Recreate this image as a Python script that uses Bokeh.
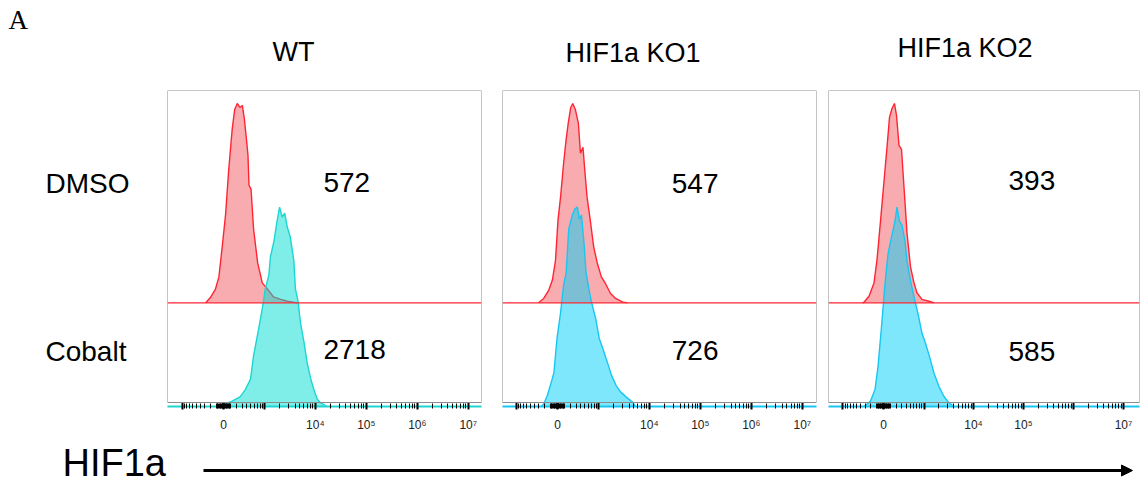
import numpy as np
from bokeh.plotting import figure
from bokeh.models import (Range1d, LinearAxis, FixedTicker, BoxAnnotation, Span,
                          Arrow, NormalHead, CustomJSTickFormatter)
from bokeh.layouts import row, column
from bokeh.embed import file_html
from bokeh.resources import INLINE
from bokeh.core.properties import value

# ---------------- data ----------------
panels = ["WT", "HIF1a KO1", "HIF1a KO2"]
conditions = ["DMSO", "Cobalt"]
mfi_dmso = [572, 547, 393]
mfi_cobalt = [2718, 726, 585]

# histogram outlines: x = display channel (biexponential decades), y = % of mode
wt_dmso_x = [-0.35, -0.26, -0.16, -0.09, -0.03, 0.04, 0.10, 0.17, 0.22, 0.27, 0.32, 0.37, 0.41, 0.45,
             0.48, 0.50, 0.54, 0.59, 0.67, 0.76, 0.86, 0.98, 1.12, 1.25, 1.45]
wt_dmso_y = [0, 2.5, 6.7, 13, 27, 44, 66, 87, 97, 100, 98, 99, 92, 82,
             74, 59, 57, 37, 20, 10, 7, 3, 1.7, 0.8, 0]
wt_cob_x = [-0.10, 0.00, 0.17, 0.33, 0.43, 0.53, 0.59, 0.69, 0.76, 0.82, 0.89, 0.92, 0.99, 1.05, 1.10,
            1.15, 1.20, 1.25, 1.31, 1.38, 1.41, 1.46, 1.51, 1.58, 1.64, 1.71, 1.77, 1.84, 1.90, 2.03]
wt_cob_y = [0, 1, 2.7, 5, 8.6, 13.7, 25.5, 39, 49, 59, 66, 75, 83, 93, 100,
            95, 97, 90, 85, 73, 59, 53, 42, 32, 22, 14, 8.6, 3.6, 1.9, 0]
ko1_dmso_x = [-0.37, -0.27, -0.17, -0.10, -0.04, 0.01, 0.06, 0.12, 0.17, 0.21, 0.26, 0.30, 0.35, 0.41,
              0.45, 0.50, 0.54, 0.58, 0.65, 0.71, 0.78, 0.86, 0.94, 1.04, 1.14, 1.27, 1.37]
ko1_dmso_y = [0, 2.2, 6.4, 11.4, 21, 41.5, 53, 70, 82, 90, 98, 100, 97, 90,
              75, 78, 65, 53, 40, 28, 20, 13, 9.7, 4.7, 2.2, 0.5, 0]
ko1_cob_x = [-0.32, -0.27, -0.20, -0.14, -0.07, -0.01, 0.06, 0.12, 0.17, 0.22, 0.29, 0.34, 0.39, 0.43, 0.47,
             0.52, 0.56, 0.63, 0.68, 0.75, 0.82, 0.89, 0.98, 1.06, 1.15, 1.24, 1.35, 1.47, 1.53]
ko1_cob_y = [0, 1.3, 5.5, 10.5, 17, 34, 47, 61, 67, 89, 96, 99, 100, 94, 96,
             82, 67, 57, 51, 44, 34, 29, 22, 15.6, 10.5, 7.2, 4.7, 2.2, 0]
ko2_dmso_x = [-0.42, -0.39, -0.29, -0.19, -0.13, -0.06, 0.01, 0.07, 0.12, 0.17, 0.22, 0.26, 0.31, 0.36,
              0.41, 0.47, 0.54, 0.61, 0.67, 0.77, 0.91, 1.01]
ko2_dmso_y = [0, 0.3, 3.3, 10, 21.5, 41, 61, 78, 93, 97.5, 100, 94, 79, 77,
              58, 35, 18, 10, 5, 1.7, 0.8, 0]
ko2_cob_x = [-0.40, -0.36, -0.26, -0.17, -0.11, -0.04, 0.03, 0.09, 0.16, 0.23, 0.27, 0.32, 0.37, 0.43,
             0.47, 0.54, 0.61, 0.69, 0.77, 0.84, 0.92, 1.01, 1.11, 1.21, 1.31, 1.41]
ko2_cob_y = [0, 0.5, 2.7, 8.5, 20, 40, 61.5, 76.5, 85, 93, 100, 93, 91, 83,
             73, 63, 55, 46.6, 36.7, 31.7, 25, 16.7, 10, 5, 1.8, 0]

dmso_hists = [(wt_dmso_x, wt_dmso_y), (ko1_dmso_x, ko1_dmso_y), (ko2_dmso_x, ko2_dmso_y)]
cob_hists = [(wt_cob_x, wt_cob_y), (ko1_cob_x, ko1_cob_y), (ko2_cob_x, ko2_cob_y)]

tick_values = [-1e3, 0, 1e3, 1e4, 1e5, 1e6, 1e7]
tick_labels = [["", "0", "", "10⁴", "10⁵", "10⁶", "10⁷"],
               ["", "0", "", "10⁴", "10⁵", "10⁶", "10⁷"],
               ["", "0", "", "10⁴", "10⁵", "", "10⁷"]]
axis_title = "HIF1a"
panel_letter = "A"


def biex(v):
    return float(np.arcsinh(np.asarray(v) / 317.0) / np.log(10))


major_t = [biex(v) for v in tick_values]
minor_vals = [k * 10 ** n for n in range(1, 7) for k in range(2, 10)]
minor_vals += [-k * 10 ** n for n in range(1, 3) for k in range(1, 10)] + [100, 10]
minor_t = sorted(biex(v) for v in minor_vals)

# ---------------- layout / style ----------------
FONT = "Liberation Sans"
RED_LINE = "#ff2433"
RED_FILL = "#f04650"
W = 1141
HEAD_H = 70
ROW_H = 364
TOP, BOTTOM = 20, 27
geo = [
    dict(width=330, left=7, right=9, x=(-1.098, 5.059), ytop=158.5,
         cl="#1cd6d2", cf="#00dcd2", tx=272, ty=51.5, nx=1.96, ny=(112.5, 28.5)),
    dict(width=332, left=12, right=6, x=(-1.078, 5.078), ytop=158.5,
         cl="#18c6f2", cf="#00d0f8", tx=565, ty=52.5, nx=2.24, ny=(112, 28)),
    dict(width=319, left=6, right=2, x=(-1.1, 5.12), ytop=158.5,
         cl="#18c6f2", cf="#00d0f8", tx=897, ty=47.5, nx=2.5, ny=(113.5, 27.5)),
]
RED_BASE = 52

# header strip: panel letter and column titles (page pixels)
ph = figure(width=W, height=HEAD_H, x_range=Range1d(0, W), y_range=Range1d(HEAD_H, 0),
            x_axis_type=None, y_axis_type=None, toolbar_location=None, output_backend="svg",
            min_border=0)
ph.outline_line_color = None
ph.text(x=[8], y=[19.5], text=[panel_letter], text_font=value("Liberation Serif"),
        text_font_size="27px", text_baseline="middle", text_align="left", text_color="black")
ph.text(x=[g["tx"] for g in geo], y=[g["ty"] for g in geo], text=panels, text_font=value(FONT),
        text_font_size="27px", text_baseline="middle", text_align="left", text_color="black")

# left label column (frame shares the panels' vertical extent; y in page pixels)
frame_top = HEAD_H + TOP
frame_bot = HEAD_H + ROW_H - BOTTOM
p0 = figure(width=160, height=ROW_H, x_range=Range1d(0, 160),
            y_range=Range1d(frame_bot, frame_top),
            x_axis_type=None, y_axis_type=None, toolbar_location=None, output_backend="svg",
            min_border_left=0, min_border_right=0, min_border_top=TOP, min_border_bottom=BOTTOM)
p0.outline_line_color = None
p0.text(x=[45, 45], y=[183, 352], text=conditions, text_font=value(FONT),
        text_font_size="28px", text_baseline="middle", text_align="left", text_color="black")

figs = [p0]
for i, g in enumerate(geo):
    p = figure(width=g["width"], height=ROW_H, x_range=Range1d(*g["x"]), y_range=Range1d(0, g["ytop"]),
               x_axis_type=None, y_axis_type=None, toolbar_location=None, output_backend="svg",
               min_border_left=g["left"], min_border_right=g["right"],
               min_border_top=TOP, min_border_bottom=BOTTOM)
    p.outline_line_color = None
    p.background_fill_color = "white"

    # DMSO histogram (upper, offset)
    dx, dy = dmso_hists[i]
    top_d = [RED_BASE + v for v in dy]
    p.varea(x=dx, y1=RED_BASE, y2=top_d, fill_color=RED_FILL, fill_alpha=0.45)
    p.add_layout(Span(location=RED_BASE, dimension="width", line_color=RED_LINE, line_width=1.2))
    p.line(x=dx, y=top_d, line_color=RED_LINE, line_width=1.4)

    # Cobalt histogram (lower)
    cx, cy = cob_hists[i]
    p.varea(x=cx, y1=0, y2=cy, fill_color=g["cf"], fill_alpha=0.5)
    p.line(x=cx, y=cy, line_color=g["cl"], line_width=1.4)

    p.add_layout(BoxAnnotation(bottom=2, fill_alpha=0, line_color="#8c8c8c", line_alpha=1.0,
                               line_width=1))

    p.text(x=[g["nx"], g["nx"]], y=list(g["ny"]), text=[str(mfi_dmso[i]), str(mfi_cobalt[i])],
           text_align="left", text_baseline="middle", text_font=value(FONT),
           text_font_size="28px", text_color="black")

    xa = LinearAxis(ticker=FixedTicker(ticks=major_t, minor_ticks=minor_t),
                    formatter=CustomJSTickFormatter(args=dict(labs=tick_labels[i]), code="return labs[index];"))
    xa.axis_line_color = g["cl"]
    xa.axis_line_width = 2
    xa.major_tick_line_color = "black"
    xa.major_tick_line_width = 2
    xa.major_tick_in = 4
    xa.major_tick_out = 3
    xa.minor_tick_line_color = "black"
    xa.minor_tick_line_width = 1
    xa.minor_tick_in = 3
    xa.minor_tick_out = 2
    xa.major_label_standoff = 8
    xa.major_label_text_font = FONT
    xa.major_label_text_font_size = "12px"
    xa.major_label_text_color = "#222222"
    p.add_layout(xa, "below")
    figs.append(p)

p4 = figure(width=W, height=49, x_range=Range1d(0, W), y_range=Range1d(49, 0),
            x_axis_type=None, y_axis_type=None, toolbar_location=None, output_backend="svg",
            min_border=0)
p4.outline_line_color = None
p4.text(x=[62], y=[28], text=[axis_title], text_font=value(FONT), text_font_size="38px",
        text_baseline="middle", text_align="left", text_color="black")
p4.add_layout(Arrow(end=NormalHead(size=11, fill_color="black", line_color="black"),
                    x_start=203, y_start=36, x_end=1132, y_end=36, line_width=3, line_color="black"))

layout = column(ph, row(*figs, spacing=0), p4, spacing=0)
open("out.html", "w").write(file_html(layout, INLINE))
